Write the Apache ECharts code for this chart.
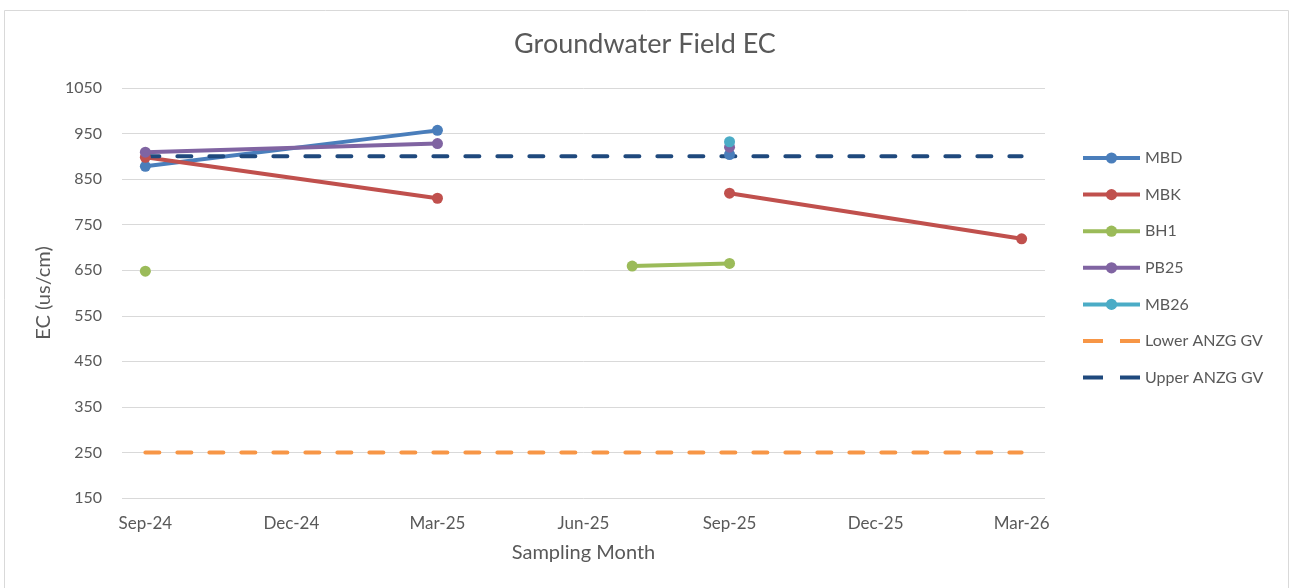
<!DOCTYPE html>
<html>
<head>
<meta charset="utf-8">
<script src="https://cdn.jsdelivr.net/npm/echarts@6/dist/echarts.min.js"></script>
<style>
html,body{margin:0;padding:0;background:#fff;}
#chart{width:1290px;height:588px;}
</style>
</head>
<body>
<div id="chart"></div>
<script>
// Sampling dates (year-month)
const sampleDates = ['2024-09', '2025-03', '2025-07', '2025-09', '2026-03'];
// Series values (null = not sampled)
const MBD  = [878, 957, null, 904, null];
const MBK  = [898, 808, null, 819, 719];
const BH1  = [648, null, 659, 665, null];
const PB25 = [909, 928, null, 920, null];
const MB26 = [null, null, null, 932, null];
const lowerGV = [250, 250, 250, 250, 250];
const upperGV = [900, 900, 900, 900, 900];
// Tick labels (every 3 months from Sep-24)
const tickLabels = ['Sep-24', 'Dec-24', 'Mar-25', 'Jun-25', 'Sep-25', 'Dec-25', 'Mar-26'];
const yTicks = { min: 150, max: 1050, step: 100 };

const monthIndex = s => { const [y, m] = s.split('-').map(Number); return (y - 2024) * 12 + (m - 9); };
const xs = sampleDates.map(monthIndex);
const pairs = arr => arr.map((v, i) => [xs[i], v]);
const tickValues = tickLabels.map((_, i) => i * 3);

const FONT = 'Lato';
const GREY = '#595959';
const DASH_ICON = 'path://M0,0h20v4h-20z M37,0h20v4h-20z';

function dataSeries(name, arr, color) {
  return {
    name, type: 'line', data: pairs(arr), connectNulls: false,
    symbol: 'circle', symbolSize: 11,
    itemStyle: { color },
    lineStyle: { color, width: 4 },
    emphasis: { disabled: true }
  };
}
function gvSeries(name, arr, color) {
  return {
    name, type: 'line', data: pairs(arr), symbol: 'none',
    itemStyle: { color },
    lineStyle: { color, width: 4, type: [14, 18], cap: 'round' },
    emphasis: { disabled: true }
  };
}

const chart = echarts.init(document.getElementById('chart'), null, { renderer: 'canvas' });
chart.setOption({
  animation: false,
  backgroundColor: '#fff',
  textStyle: { fontFamily: FONT },
  graphic: [{
    type: 'rect', silent: true, z: -10,
    shape: { x: 4.5, y: 10.5, width: 1284, height: 600 },
    style: { fill: 'none', stroke: '#d9d9d9', lineWidth: 1 }
  }],
  title: {
    text: 'Groundwater Field EC', left: 'center', top: 26,
    textStyle: { fontFamily: FONT, fontSize: 27, fontWeight: 'normal', color: GREY }
  },
  legend: {
    orient: 'vertical', left: 1081, top: 150, padding: 0,
    itemWidth: 57, itemHeight: 14, itemGap: 20.6,
    symbolKeepAspect: true,
    lineStyle: { width: 4 },
    textStyle: { fontFamily: FONT, fontSize: 16, color: GREY },
    data: ['MBD', 'MBK', 'BH1', 'PB25', 'MB26',
      { name: 'Lower ANZG GV', icon: DASH_ICON },
      { name: 'Upper ANZG GV', icon: DASH_ICON }]
  },
  grid: { left: 122, right: 245, top: 88, bottom: 90, containLabel: false },
  xAxis: {
    type: 'value', min: -0.48, max: 18.48,
    name: 'Sampling Month', nameLocation: 'middle', nameGap: 45,
    nameTextStyle: { fontFamily: FONT, fontSize: 20, color: GREY },
    axisLine: { show: false },
    axisTick: { show: false },
    splitLine: { show: false },
    axisLabel: {
      customValues: tickValues,
      formatter: v => tickLabels[Math.round(v / 3)] || '',
      fontFamily: FONT, fontSize: 17, color: GREY, margin: 17
    }
  },
  yAxis: {
    type: 'value', min: yTicks.min, max: yTicks.max, interval: yTicks.step,
    name: 'EC (us/cm)', nameLocation: 'middle', nameGap: 68, nameRotate: 90,
    nameTextStyle: { fontFamily: FONT, fontSize: 20, color: GREY },
    axisLine: { show: false },
    axisTick: { show: false },
    splitLine: { lineStyle: { color: '#d9d9d9', width: 1 } },
    axisLabel: { fontFamily: FONT, fontSize: 16, color: GREY, margin: 20, formatter: v => String(v) }
  },
  series: [
    dataSeries('MBD', MBD, '#4A7EBB'),
    dataSeries('MBK', MBK, '#C0504D'),
    dataSeries('BH1', BH1, '#9BBB59'),
    dataSeries('PB25', PB25, '#8064A2'),
    dataSeries('MB26', MB26, '#4BACC6'),
    gvSeries('Lower ANZG GV', lowerGV, '#F79646'),
    gvSeries('Upper ANZG GV', upperGV, '#1F497D')
  ]
});
</script>
</body>
</html>
